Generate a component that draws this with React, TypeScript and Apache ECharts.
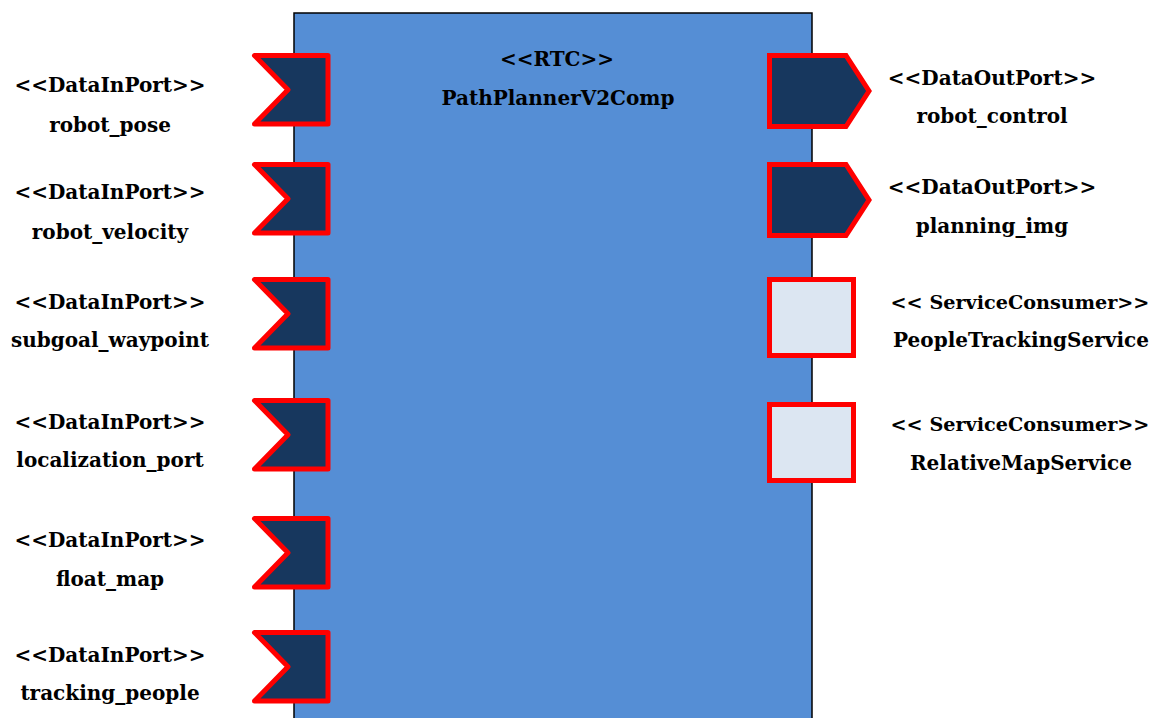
import React, { useEffect, useRef } from "react";
import * as echarts from "echarts";

const componentStereotype = "<<RTC>>";
const componentName = "PathPlannerV2Comp";
const inPortStereotype = "<<DataInPort>>";
const inPorts = ["robot_pose", "robot_velocity", "subgoal_waypoint", "localization_port", "float_map", "tracking_people"];
const outPortStereotype = "<<DataOutPort>>";
const outPorts = ["robot_control", "planning_img"];
const serviceStereotype = "<< ServiceConsumer>>";
const services = ["PeopleTrackingService", "RelativeMapService"];

// layout (pixel positions)
const inTops = [53, 162, 277, 398, 516, 630];
const inLabelY = [85, 192, 302, 422, 540, 655];
const inNameY = [125, 232, 340, 460, 579, 693];
const outTops = [53, 162];
const outLabelY = [78, 187];
const outNameY = [116, 226];
const svcTops = [277, 402];
const svcLabelY = [302, 424];
const svcNameY = [340, 463];

const FONT = 'bold 20px "DejaVu Serif"';

function label(text: string, x: number, y: number, font = FONT) {
  return {
    type: "text",
    style: { text, x, y, textAlign: "center", textVerticalAlign: "middle", font, fill: "#000" },
  };
}

export default function App() {
  const ref = useRef<HTMLDivElement>(null);
  useEffect(() => {
    document.body.style.margin = "0";
    const chart = echarts.init(ref.current!, undefined, { renderer: "svg" });
    const els: any[] = [];
    els.push({
      type: "rect",
      shape: { x: 294, y: 13, width: 518, height: 720 },
      style: { fill: "#558ED5", stroke: "#000", lineWidth: 1.5 },
    });
    els.push(label(componentStereotype, 557, 59));
    els.push(label(componentName, 558, 98));
    inPorts.forEach((name, i) => {
      const t = inTops[i] + 2.5;
      const b = inTops[i] + 71;
      const m = (t + b) / 2;
      els.push({
        type: "polygon",
        shape: { points: [[254.5, t], [328, t], [328, b], [254.5, b], [288, m]] },
        style: { fill: "#17375E", stroke: "#FF0000", lineWidth: 5, lineJoin: "round" },
      });
      els.push(label(inPortStereotype, 110, inLabelY[i]));
      els.push(label(name, 110, inNameY[i]));
    });
    outPorts.forEach((name, i) => {
      const t = outTops[i] + 2.5;
      const b = outTops[i] + 73.5;
      const m = (t + b) / 2;
      els.push({
        type: "polygon",
        shape: { points: [[769.5, t], [846, t], [869, m], [846, b], [769.5, b]] },
        style: { fill: "#17375E", stroke: "#FF0000", lineWidth: 5, lineJoin: "miter" },
      });
      els.push(label(outPortStereotype, 992, outLabelY[i]));
      els.push(label(name, 992, outNameY[i]));
    });
    services.forEach((name, i) => {
      const t = svcTops[i] + 2.5;
      els.push({
        type: "rect",
        shape: { x: 769.5, y: t, width: 84, height: 76 },
        style: { fill: "#DCE6F2", stroke: "#FF0000", lineWidth: 5 },
      });
      els.push(label(serviceStereotype, 1020, svcLabelY[i], 'bold 19.2px "DejaVu Serif"'));
      els.push(label(name, 1021, svcNameY[i]));
    });
    chart.setOption({ animation: false, graphic: { elements: els } });
    return () => chart.dispose();
  }, []);
  return <div ref={ref} style={{ width: 1154, height: 718, background: "#fff" }} />;
}
